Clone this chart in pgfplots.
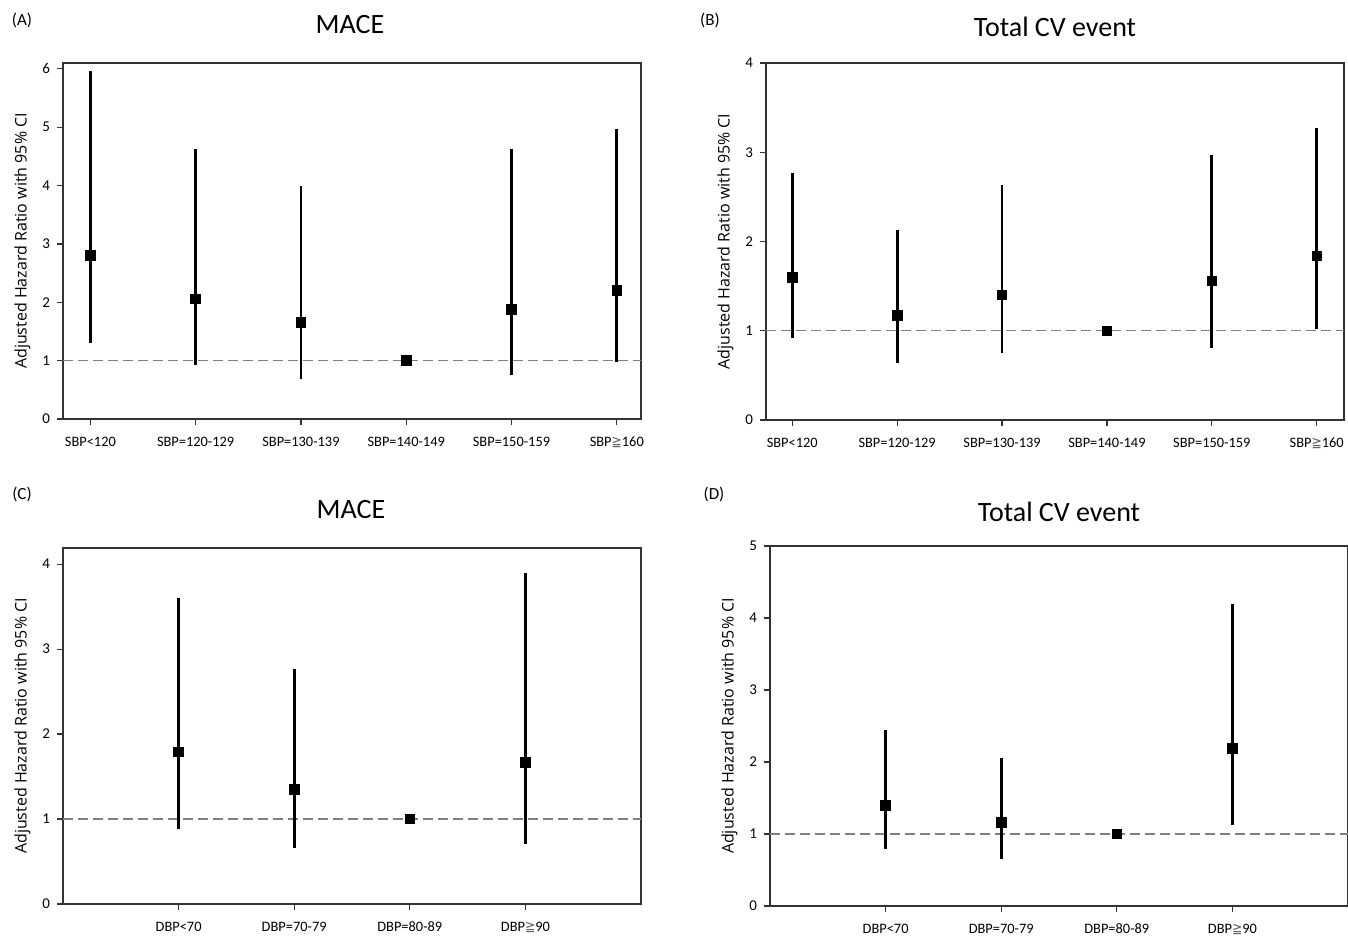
\documentclass[border=0pt]{standalone}
\usepackage{fontspec}
\setmainfont{Carlito}
\newfontfamily\labelfont{Open Sans}
\newfontfamily\symfont{DejaVu Sans}[FakeStretch=0.85]
\usepackage{pgfplots}
\usepackage{pgfplotstable}
\pgfplotsset{compat=1.18}

\newcommand{\geqq}{{\symfont\color{black!60}\char"2267}}

% x  HR  lower  upper
\pgfplotstableread{
x y lo hi
0 2.80 1.30 5.97
1 2.06 0.92 4.62
2 1.65 0.68 4.00
3 1.00 1.00 1.00
4 1.88 0.75 4.62
5 2.20 0.98 4.97
}\dataA
\pgfplotstableread{
x y lo hi
0 1.60 0.92 2.77
1 1.17 0.64 2.13
2 1.40 0.75 2.63
3 1.00 1.00 1.00
4 1.56 0.81 2.97
5 1.84 1.02 3.27
}\dataB
\pgfplotstableread{
x y lo hi
0 1.79 0.88 3.60
1 1.35 0.66 2.77
2 1.00 1.00 1.00
3 1.67 0.71 3.89
}\dataC
\pgfplotstableread{
x y lo hi
0 1.40 0.79 2.45
1 1.16 0.65 2.06
2 1.00 1.00 1.00
3 2.19 1.13 4.20
}\dataD

\pgfplotsset{
  hrpanel/.style={
    anchor=south west,
    scale only axis,
    width=289pt,
    height=178pt,
    ymin=0,
    axis line style={black!80, line width=0.8pt},
    tick style={black!80, line width=0.6pt},
    tick align=outside,
    major tick length=3pt,
    xtick pos=bottom,
    ytick pos=left,
    yticklabel style={font=\fontsize{7.5}{9}\selectfont},
    xticklabel style={font=\fontsize{7.2}{9}\selectfont, yshift=-2.5pt},
    /pgf/number format/assume math mode=true,
    ylabel={Adjusted Hazard Ratio with 95\% CI},
    ylabel style={font=\labelfont\fontsize{8}{10}\selectfont, at={(axis description cs:-0.07,0.5)}, anchor=center},
  },
  refline/.style={black!50, line width=0.75pt, dash pattern=on 5pt off 2.5pt},
  hrplot/.style={black, only marks, mark=square*, mark size=2.4pt,
    error bars/.cd, y dir=both, y explicit,
    error bar style={line width=1.4pt}, error mark=none},
}

\begin{document}
\begin{tikzpicture}
\path[use as bounding box] (0,0) rectangle (674pt,468pt);

% (A)
\begin{axis}[hrpanel, at={(31.5pt,258.5pt)},
  xmin=-0.26, xmax=5.23, ymax=6.1, ytick={0,...,6},
  xtick={0,...,5},
  xticklabels={SBP<120, SBP=120-129, SBP=130-139, SBP=140-149, SBP=150-159, SBP\geqq160}]
  \addplot[refline] coordinates {(-0.26,1) (5.23,1)};
  \addplot[hrplot] table[x=x, y=y, y error plus expr=\thisrow{hi}-\thisrow{y}, y error minus expr=\thisrow{y}-\thisrow{lo}] {\dataA};
\end{axis}

% (B)
\begin{axis}[hrpanel, at={(383pt,258pt)}, height=178.5pt,
  xmin=-0.25, xmax=5.26, ymax=4, ytick={0,...,4},
  xtick={0,...,5},
  xticklabels={SBP<120, SBP=120-129, SBP=130-139, SBP=140-149, SBP=150-159, SBP\geqq160}]
  \addplot[refline] coordinates {(-0.25,1) (5.26,1)};
  \addplot[hrplot] table[x=x, y=y, y error plus expr=\thisrow{hi}-\thisrow{y}, y error minus expr=\thisrow{y}-\thisrow{lo}] {\dataB};
\end{axis}

% (C)
\begin{axis}[hrpanel, at={(31.5pt,16pt)},
  xmin=-1, xmax=4, ymax=4.19, ytick={0,...,4},
  xtick={0,...,3},
  xticklabels={DBP<70, DBP=70-79, DBP=80-89, DBP\geqq90}]
  \addplot[refline] coordinates {(-1,1) (4,1)};
  \addplot[hrplot] table[x=x, y=y, y error plus expr=\thisrow{hi}-\thisrow{y}, y error minus expr=\thisrow{y}-\thisrow{lo}] {\dataC};
\end{axis}

% (D)
\begin{axis}[hrpanel, at={(385pt,15pt)}, height=180pt,
  xmin=-1, xmax=4, ymax=5, ytick={0,...,5},
  xtick={0,...,3},
  xticklabels={DBP<70, DBP=70-79, DBP=80-89, DBP\geqq90}]
  \addplot[refline] coordinates {(-1,1) (4,1)};
  \addplot[hrplot] table[x=x, y=y, y error plus expr=\thisrow{hi}-\thisrow{y}, y error minus expr=\thisrow{y}-\thisrow{lo}] {\dataD};
\end{axis}

% titles and panel letters
\node[font=\fontsize{14}{17}\selectfont] at (175pt,455.5pt) {MACE};
\node[font=\fontsize{14}{17}\selectfont] at (527.5pt,454.5pt) {Total CV event};
\node[font=\fontsize{14}{17}\selectfont] at (175.5pt,213pt) {MACE};
\node[font=\fontsize{14}{17}\selectfont] at (529.5pt,212pt) {Total CV event};
\node[font=\fontsize{8.5}{10}\selectfont] at (11pt,458pt) {(A)};
\node[font=\fontsize{8.5}{10}\selectfont] at (355pt,458pt) {(B)};
\node[font=\fontsize{8.5}{10}\selectfont] at (11pt,221pt) {(C)};
\node[font=\fontsize{8.5}{10}\selectfont] at (357pt,221pt) {(D)};
\end{tikzpicture}
\end{document}
